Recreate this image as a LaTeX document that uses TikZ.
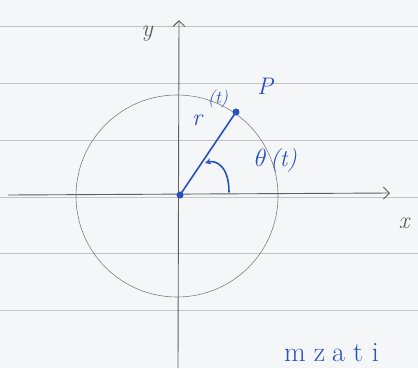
\documentclass[tikz,border=0pt]{standalone}
\usetikzlibrary{arrows.meta}
\definecolor{paper}{RGB}{245,246,248}
\definecolor{rule}{RGB}{190,196,200}
\definecolor{axis}{RGB}{95,95,95}
\definecolor{ink}{RGB}{40,80,190}
\tikzset{
  ruleline/.style={draw=rule, line width=0.9pt},
  axisline/.style={draw=axis, line width=0.9pt},
  inkline/.style={draw=ink, line width=1.6pt, line cap=round},
  inklabel/.style={text=ink, font=\fontsize{24}{24}\selectfont\itshape, inner sep=0pt},
  axlabel/.style={text=axis, font=\fontsize{24}{24}\selectfont\itshape, inner sep=0pt},
  dotnode/.style={circle, fill=ink, minimum size=7pt, inner sep=0pt}
}
\begin{document}
\begin{tikzpicture}[x=1pt,y=-1pt]
\fill[paper] (0,0) rectangle (418,368);
\useasboundingbox (0,0) rectangle (418,368);
% ruled lines
\foreach \yy in {26,83,140,197,253,310} \draw[ruleline] (0,\yy) -- (418,\yy);
% circle
\draw[axis!80, line width=0.6pt] (177,196) circle (101);
% axes
\coordinate (xs) at (8,195);
\coordinate (xe) at (390,193);
\coordinate (ys) at (178,368);
\coordinate (ye) at (179,20);
\draw[axisline, -{Straight Barb[length=6pt,width=12pt]}] (xs) -- (xe);
\draw[axisline, -{Straight Barb[length=6pt,width=12pt]}] (ys) -- (ye);
\node[axlabel] (xl) at (404,223) {x};
\node[axlabel] (yl) at (147,34) {y};
% origin and point P
\node[dotnode] (O) at (180,195) {};
\node[dotnode] (P) at (236,112) {};
\draw[inkline] (O.center) -- (P.center);
% angle arc
\coordinate (a1) at (229,192);
\coordinate (a2) at (205,163);
\draw[inkline, -{Stealth[length=6pt,width=6pt]}] (a1) .. controls (229,165) and (215,160) .. (a2);
% labels
\node[inklabel] (Pl) at (265,86) {P};
\node[inklabel] (rl) at (197,120) {r};
\node[inklabel, font=\fontsize{18}{18}\selectfont\itshape] (rt) at (218,99) {(t)};
\node[inklabel] (tl) at (276,161) {$\theta$\hspace{3pt}(t)};
\node[inklabel, anchor=base west, font=\fontsize{28}{28}\selectfont] (ml) at (284,361) {m\hspace{8pt}z\hspace{7pt}a\hspace{8pt}t\hspace{9pt}i};
\end{tikzpicture}
\end{document}
